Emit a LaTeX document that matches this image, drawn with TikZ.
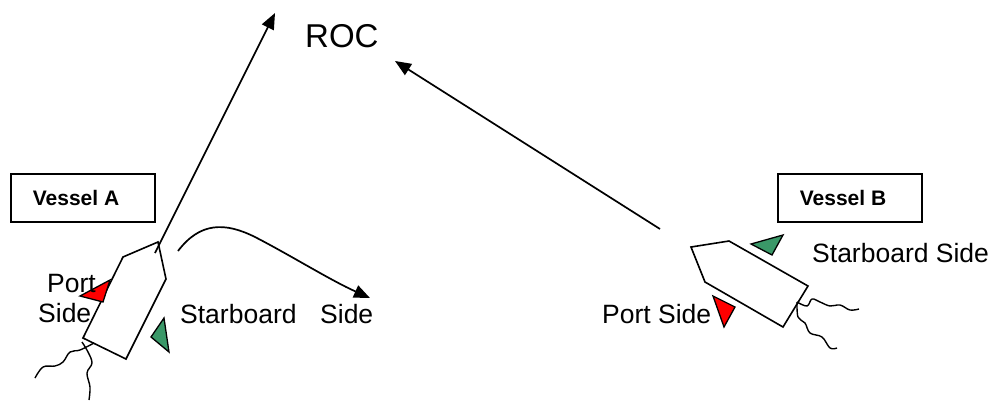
\documentclass[tikz,border=0pt]{standalone}
\usepackage{fontspec}
\setmainfont{Liberation Sans}
\usetikzlibrary{arrows.meta}
\definecolor{portred}{RGB}{255,0,0}
\definecolor{stbdgreen}{RGB}{58,152,104}
\tikzset{
  hull/.style={draw=black, line width=1.6pt, line join=miter, fill=white},
  wake/.style={draw=black, line width=1.4pt},
  portflag/.style={draw=black, line width=1.3pt, fill=portred, line join=miter},
  stbdflag/.style={draw=black, line width=1.3pt, fill=stbdgreen, line join=miter},
  course/.style={draw=black, line width=1.7pt, -{Triangle[length=16pt,width=13pt]}},
  label/.style={inner sep=0pt, anchor=base west, font=\fontsize{26.5}{30}\selectfont},
  title/.style={draw=black, line width=1.8pt, minimum width=144pt, minimum height=48pt, inner sep=0pt},
  titletext/.style={inner sep=0pt, font=\fontsize{21}{24}\bfseries\selectfont}
}
\begin{document}
\begin{tikzpicture}[x=1pt,y=-1pt]
\useasboundingbox (0,0) rectangle (993,400);

% ---- destination ----
\node[inner sep=0pt, anchor=base west, font=\fontsize{33}{36}\selectfont] (roc) at (305,47) {ROC};

% ---- vessel A ----
\node[title] (boxA) at (83,198) {};
\node[titletext] (nameA) at (76,198) {Vessel A};
\path[hull] (83,338) -- (126,359) -- (166,279) -- (158,242) -- (123,257) -- cycle;
\path[portflag] (80,296) -- (110,280) -- (103,302) -- cycle;
\path[stbdflag] (151,337) -- (164,318) -- (169,352) -- cycle;
\draw[wake] plot[smooth, tension=0.6] coordinates {(94,343) (80,350) (70,352) (63,362) (55,366) (43,367) (35,378)};
\draw[wake] plot[smooth, tension=0.6] coordinates {(82,342) (88,352) (92,363) (87,373) (90,387) (89,400)};
\node[label] (portA) at (47,292) {Port};
\node[label] (sideA) at (38,322) {Side};
\node[label] (stbdA) at (180,323) {Starboard};
\node[label] (stbdsideA) at (320,323) {Side};

% ---- vessel B ----
\node[title] (boxB) at (850,198) {};
\node[titletext] (nameB) at (843,198) {Vessel B};
\path[hull] (691,247) -- (729,241) -- (808,286) -- (783,327) -- (705,282) -- cycle;
\path[stbdflag] (751,244) -- (783,235) -- (772,255) -- cycle;
\path[portflag] (713,296) -- (735,307) -- (724,327) -- cycle;
\draw[wake] plot[smooth, tension=0.6] coordinates {(797,302) (807,306) (812,299) (820,302) (830,306) (840,305) (850,310) (859,309)};
\draw[wake] plot[smooth, tension=0.6] coordinates {(797,302) (798,317) (805,323) (810,333) (822,337) (830,348) (837,348)};
\node[label] (stbdB) at (812,262) {Starboard Side};
\node[label] (portB) at (602,323) {Port Side};

% ---- courses ----
\coordinate (startA) at (155,253);
\coordinate (endA) at (275,13);
\coordinate (startB) at (660,229);
\coordinate (endB) at (395,61);
\coordinate (turnS) at (178,251);
\coordinate (turnE) at (370,298);
\draw[course] (startA) -- (endA);
\draw[course] (startB) -- (endB);
\draw[course] (turnS) .. controls (200,222) and (225,222) .. (255,237)
                      .. controls (290,255) and (330,280) .. (turnE);
\end{tikzpicture}
\end{document}
